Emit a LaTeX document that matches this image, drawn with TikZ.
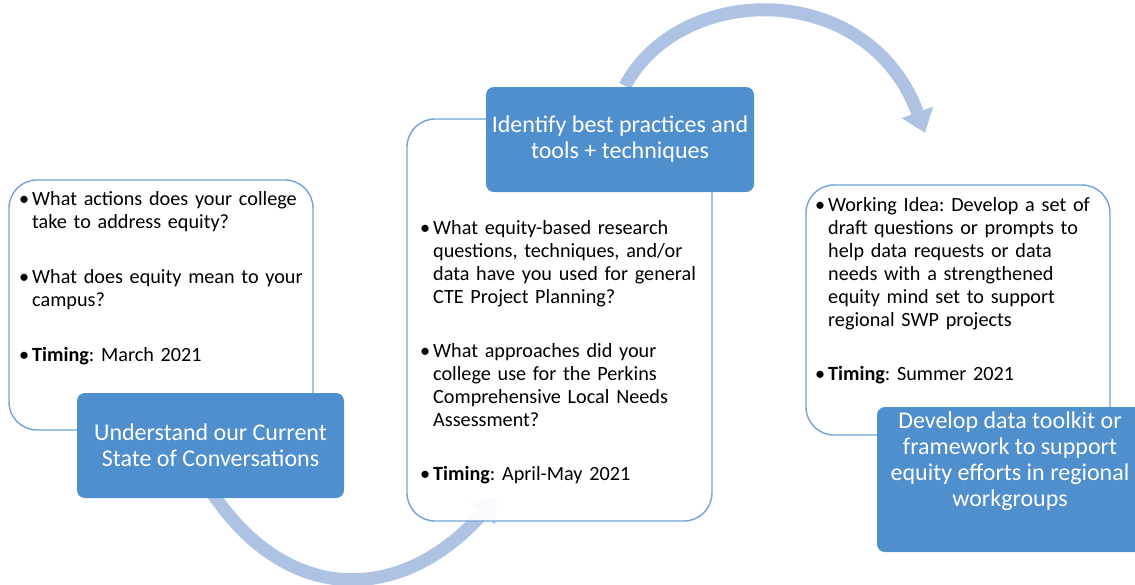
\documentclass[tikz,border=0pt]{standalone}
\usepackage{fontspec}
\setmainfont{Carlito}
\usetikzlibrary{arrows.meta}

\definecolor{boxblue}{HTML}{4F8FCD}
\definecolor{edgeblue}{HTML}{6FA3DA}
\definecolor{arcblue}{HTML}{AEC3E3}

% one bullet paragraph with a hanging indent
\newcommand{\bpoint}[1]{\par\hangindent=13pt\hangafter=1\noindent\makebox[13pt][l]{\textbullet}#1}

\begin{document}
\frenchspacing
\begin{tikzpicture}[x=1pt,y=-1pt,
  cardbox/.style={draw=edgeblue,line width=1.4pt,fill=white,fill opacity=0.9,
    rounded corners=28pt,inner sep=0pt},
  stagebox/.style={fill=boxblue,rounded corners=8pt,inner sep=0pt,text=white,
    align=center,font=\fontsize{24}{26}\selectfont},
  cardtext/.style={anchor=base west,inner sep=0pt,text width=305pt,
    font=\fontsize{20.2}{23}\selectfont},
  stagetext/.style={text=white,align=center,inner sep=0pt,
    font=\fontsize{24}{26}\selectfont},
  cyclearc/.style={draw=arcblue,line width=13pt,
    -{Triangle[length=22pt,width=32pt]}}]

\useasboundingbox (0,0) rectangle (1135,584);
\clip (0,0) rectangle (1135,584);

% end points of the two cycle arrows
\coordinate (lowS) at (213,494);
\coordinate (lowE) at (497,497);
\coordinate (highS) at (625,86);
\coordinate (highE) at (925,133);

% cycle arrows, drawn first so the boxes sit on top of them
\draw[cyclearc] (lowS) .. controls (288,605) and (402,605) .. (lowE);
\draw[cyclearc] (highS) .. controls (680,-18) and (868,-22) .. (highE);

% question cards
\node[cardbox,minimum width=304pt,minimum height=250pt] (card1) at (161,305) {};
\node[cardbox,minimum width=305pt,minimum height=402pt] (card2) at (559.5,320) {};
\node[cardbox,minimum width=304pt,minimum height=250pt] (card3) at (958,310) {};

% stage labels
\node[stagebox,minimum width=267pt,minimum height=105pt] (stage1) at (210.5,445.5)
  {Understand our Current\\State of Conversations};
\node[stagebox,minimum width=268pt,minimum height=105pt] (stage2) at (620,139.5)
  {Identify best practices and\\tools + techniques};
\node[stagebox,minimum width=266pt,minimum height=145pt] (stage3) at (1010,479.5) {};
\node[stagetext] (stage3t) at (1010,461)
  {Develop data toolkit or\\framework to support\\equity efforts in regional\\workgroups};

% card contents
\node[cardtext] (text1) at (19,150) {\setlength{\parskip}{32pt}%
  \bpoint{What actions does your college\newline take to address equity?}
  \bpoint{What does equity mean to your\newline campus?}
  \bpoint{\textbf{Timing}: March 2021}};

\node[cardtext] (text2) at (420,180) {\setlength{\parskip}{31pt}%
  \bpoint{What equity-based research\newline questions, techniques, and/or\newline data have you used for general\newline CTE Project Planning?}
  \bpoint{What approaches did your\newline college use for the Perkins\newline Comprehensive Local Needs\newline Assessment?}
  \bpoint{\textbf{Timing}: April-May 2021}};

\node[cardtext] (text3) at (815,157) {\setlength{\parskip}{31pt}%
  \bpoint{Working Idea: Develop a set of\newline draft questions or prompts to\newline help data requests or data\newline needs with a strengthened\newline equity mind set to support\newline regional SWP projects}
  \bpoint{\textbf{Timing}: Summer 2021}};

\end{tikzpicture}
\end{document}
